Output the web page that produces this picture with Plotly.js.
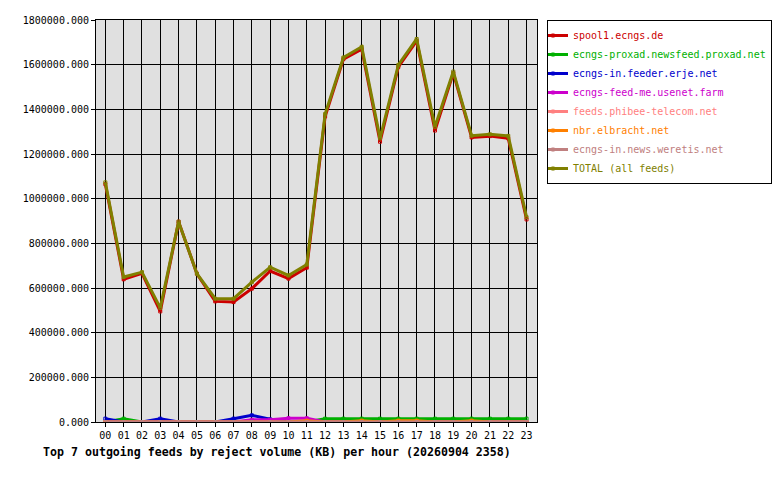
<!DOCTYPE html>
<html>
<head>
<meta charset="utf-8">
<script src="https://cdn.plot.ly/plotly-3.0.1.min.js"></script>
<style>html,body{margin:0;padding:0;background:#fff;}#chart{width:780px;height:480px;}</style>
</head>
<body>
<div id="chart"></div>
<script>
var hours = [0,1,2,3,4,5,6,7,8,9,10,11,12,13,14,15,16,17,18,19,20,21,22,23];
var hourLabels = ['00','01','02','03','04','05','06','07','08','09','10','11','12','13','14','15','16','17','18','19','20','21','22','23'];

var feedNames = ['spool1.ecngs.de','ecngs-proxad.newsfeed.proxad.net','ecngs-in.feeder.erje.net','ecngs-feed-me.usenet.farm','feeds.phibee-telecom.net','nbr.elbracht.net','ecngs-in.news.weretis.net','TOTAL (all feeds)'];
var feedColors = ['#cc0000','#00b000','#0000cc','#cc00cc','#ff8080','#ff8000','#c08080','#808000'];

var spool1   = [1065000,639000,666000,495000,897000,664000,540000,537000,597000,676000,642000,691000,1368000,1625000,1669000,1255000,1590000,1707000,1305000,1562000,1274000,1280000,1270000,907000];
var proxad   = [0,15000,0,0,0,0,0,0,0,0,0,0,15000,15000,15000,15000,15000,15000,15000,15000,15000,15000,15000,15000];
var erje     = [15000,0,0,15000,0,0,0,15000,30000,12000,0,0,0,0,0,0,0,0,0,0,0,0,0,0];
var feedme   = [0,0,0,0,0,0,0,0,10000,10000,17000,17000,0,0,0,0,0,0,0,0,0,0,0,0];
var phibee   = [0,0,0,0,0,0,0,0,0,0,0,0,0,0,0,0,0,0,0,0,0,0,0,0];
var elbracht = [0,0,0,0,0,0,0,0,0,0,0,6000,0,0,6000,0,6000,6000,0,0,6000,0,0,0];
var weretis  = [0,0,0,0,0,0,0,0,0,0,0,0,0,0,0,0,0,0,0,0,0,0,0,0];
var total    = [1073000,649000,671000,511000,897000,664000,552000,552000,626000,693000,656000,705000,1379000,1632000,1680000,1270000,1599000,1715000,1322000,1569000,1282000,1288000,1281000,917000];

var series = [spool1, proxad, erje, feedme, phibee, elbracht, weretis, total];

var traces = series.map(function(vals, i){
  return {
    x: hours, y: vals, type: 'scatter', mode: 'lines+markers',
    name: '<span style="color:' + feedColors[i] + '">' + feedNames[i] + '</span>',
    line: {color: feedColors[i], width: 3},
    marker: {color: feedColors[i], symbol: 'square-open', size: 3, line: {width: 1, color: feedColors[i]}},
    hoverinfo: 'none'
  };
});

var mono = 'DejaVu Sans Mono, monospace';
var layout = {
  width: 780, height: 480,
  margin: {l: 96, r: 243.3, t: 20, b: 58.1, pad: 0, autoexpand: false},
  paper_bgcolor: '#ffffff',
  plot_bgcolor: '#e0e0e0',
  showlegend: true,
  legend: {
    xref: 'container', yref: 'container',
    x: 0.7013, y: 0.9583, xanchor: 'left', yanchor: 'top',
    bgcolor: '#ffffff', bordercolor: '#000000', borderwidth: 1,
    font: {family: mono, size: 10, color: '#000'},
    itemwidth: 30, tracegroupgap: 0, indentation: -15
  },
  title: {
    text: '<b>Top 7 outgoing feeds by reject volume (KB) per hour (20260904 2358)</b>',
    x: 0.355, xref: 'container', xanchor: 'center',
    y: 0.058, yref: 'container', yanchor: 'middle',
    font: {family: mono, size: 11.6, color: '#000'}
  },
  xaxis: {
    range: [-0.51, 23.57], tickmode: 'array', tickvals: hours, ticktext: hourLabels,
    showgrid: true, gridcolor: '#000000', gridwidth: 1,
    zeroline: false, showline: true, linecolor: '#000', linewidth: 1, mirror: true,
    ticks: 'outside', ticklen: 4, tickcolor: '#000', tickwidth: 1,
    tickfont: {family: mono, size: 10, color: '#000'}
  },
  yaxis: {
    range: [0, 1800000], tickmode: 'linear', tick0: 0, dtick: 200000, tickformat: '.3f',
    showgrid: true, gridcolor: '#000000', gridwidth: 1,
    zeroline: false, showline: true, linecolor: '#000', linewidth: 1, mirror: true,
    ticks: 'outside', ticklen: 4, tickcolor: '#000', tickwidth: 1,
    tickfont: {family: mono, size: 10, color: '#000'}
  }
};

Plotly.newPlot('chart', traces, layout, {staticPlot: true, displayModeBar: false});
</script>
</body>
</html>
